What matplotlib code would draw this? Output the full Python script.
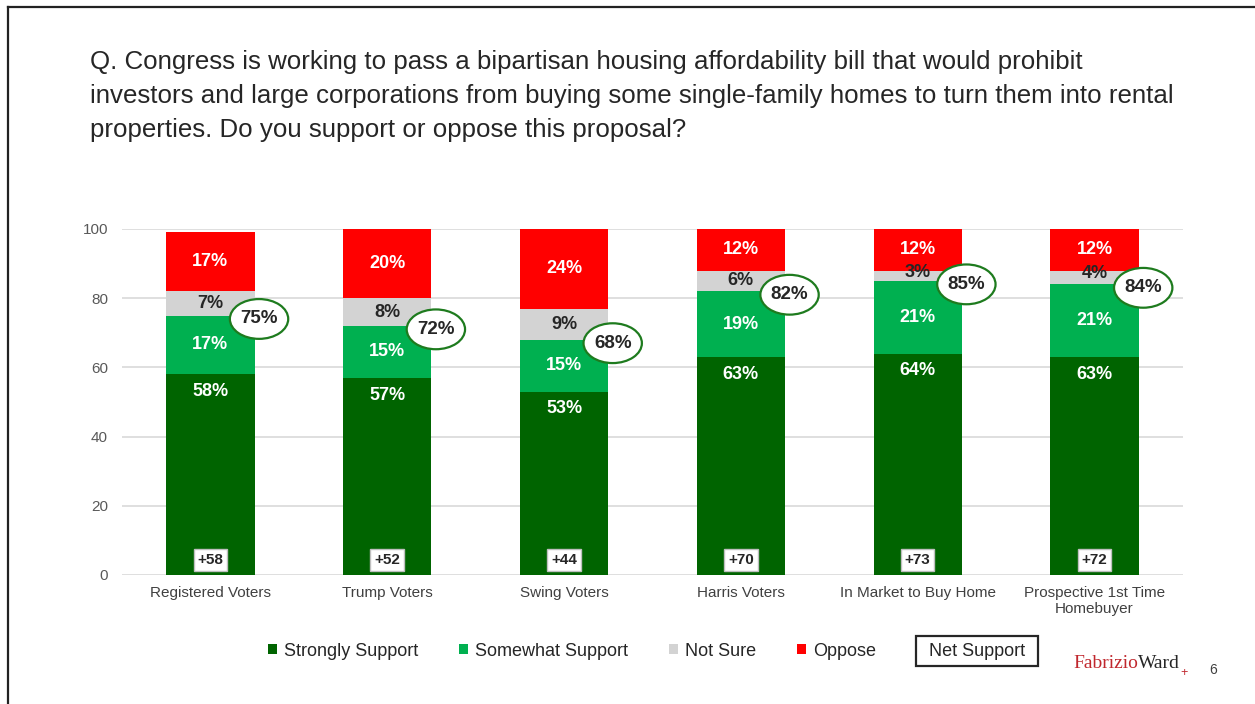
import matplotlib
matplotlib.use("Agg")
from matplotlib import pyplot as plt
from matplotlib.patches import Ellipse, Rectangle
from matplotlib.lines import Line2D
import numpy as np

plt.rcParams['font.family'] = ['Liberation Sans', 'DejaVu Sans']

# survey results (percent)
groups = ["Registered Voters", "Trump Voters", "Swing Voters", "Harris Voters",
          "In Market to Buy Home", "Prospective 1st Time\nHomebuyer"]
strongly = [58, 57, 53, 63, 64, 63]
somewhat = [17, 15, 15, 19, 21, 21]
not_sure = [7, 8, 9, 6, 3, 4]
oppose = [17, 20, 24, 12, 12, 12]
total_support = [75, 72, 68, 82, 85, 84]
net_support = [58, 52, 44, 70, 73, 72]

title_lines = ["Q. Congress is working to pass a bipartisan housing affordability bill that would prohibit",
               "investors and large corporations from buying some single-family homes to turn them into rental",
               "properties. Do you support or oppose this proposal?"]

series = [("Strongly Support", strongly, "#006400", "white"),
          ("Somewhat Support", somewhat, "#00B050", "white"),
          ("Not Sure", not_sure, "#D3D3D3", "#262626"),
          ("Oppose", oppose, "#FF0000", "white")]

W, H = 1255, 704
fig = plt.figure(figsize=(W / 100, H / 100), dpi=100)

def fx(px):
    return px / W

def fy(py):
    return 1 - py / H

# slide frame
fig.add_artist(Line2D([fx(7.5), 1], [fy(6.5), fy(6.5)], color="#222222", lw=1.6))
fig.add_artist(Line2D([fx(7.5), fx(7.5)], [0, fy(6.5)], color="#222222", lw=1.6))

for i, line in enumerate(title_lines):
    fig.text(fx(90), fy(62 + 34 * i), line, fontsize=18.65, color="#262626",
             va="center", ha="left")

ax = fig.add_axes([fx(122), fy(575), 1061 / W, 346 / H])
x = np.arange(len(groups))
bottom = np.zeros(len(groups))
for name, vals, col, tcol in series:
    vals = np.array(vals, dtype=float)
    ax.bar(x, vals, width=0.5, bottom=bottom, color=col, label=name, zorder=2)
    for xi, b, v in zip(x, bottom, vals):
        if name == "Strongly Support":
            yc = b + v - 5
        else:
            yc = (b + min(b + v, 100)) / 2
        if name == "Not Sure" and v < 5:
            yc = b + v / 2 + 1.0
        ax.text(xi, yc, f"{int(v)}%", ha="center", va="center", color=tcol,
                fontsize=13, fontweight="bold", zorder=4)
    bottom += vals

# total support ovals and net support boxes
for xi, t, n in zip(x, total_support, net_support):
    ax.add_patch(Ellipse((xi + 0.275, t - 1), 0.33, 11.5, facecolor="white",
                         edgecolor="#1E7B1E", lw=1.6, zorder=5))
    ax.text(xi + 0.275, t - 1, f"{t}%", ha="center", va="center", fontsize=13.5,
            fontweight="bold", color="#262626", zorder=6)
    ax.text(xi, 4.3, f"+{n}", ha="center", va="center", fontsize=11,
            fontweight="bold", color="#262626", zorder=6,
            bbox=dict(boxstyle="square,pad=0.25", facecolor="white",
                      edgecolor="#BFBFBF", lw=1))

ax.set_xlim(-0.5, len(groups) - 0.5)
ax.set_ylim(0, 100)
ax.set_yticks(range(0, 101, 20))
ax.set_xticks(x)
ax.set_xticklabels(groups)
ax.yaxis.grid(True, color="#D9D9D9", lw=1.2, zorder=0)
ax.set_axisbelow(True)
for s in ax.spines.values():
    s.set_visible(False)
ax.tick_params(axis="both", length=0, colors="#595959", labelsize=11)
ax.tick_params(axis="x", pad=8, labelcolor="#404040")
ax.tick_params(axis="y", pad=10)

leg = fig.legend(loc="center", bbox_to_anchor=(fx(572), fy(651)), ncol=4,
                 frameon=False, fontsize=13, handlelength=0.5, handleheight=0.5,
                 handletextpad=0.35, columnspacing=2.3)
for t in leg.get_texts():
    t.set_color("#262626")

# net support key box
fig.add_artist(Rectangle((fx(916), fy(666)), 122 / W, 30 / H, transform=fig.transFigure,
                         facecolor="white", edgecolor="#262626", lw=1.6))
fig.text(fx(977), fy(651), "Net Support", ha="center", va="center",
         fontsize=13, color="#262626")

fig.text(fx(1138), fy(664), "Fabrizio", fontsize=14, color="#C0272D",
         family="Liberation Serif", ha="right", va="center")
fig.text(fx(1138), fy(664), "Ward", fontsize=14, color="#262626",
         family="Liberation Serif", ha="left", va="center")
fig.text(fx(1180), fy(673), "+", fontsize=9, color="#C0272D",
         ha="left", va="center")
fig.text(fx(1213), fy(670), "6", fontsize=10, color="#404040",
         ha="center", va="center")

fig.savefig("out.png", dpi=100)
